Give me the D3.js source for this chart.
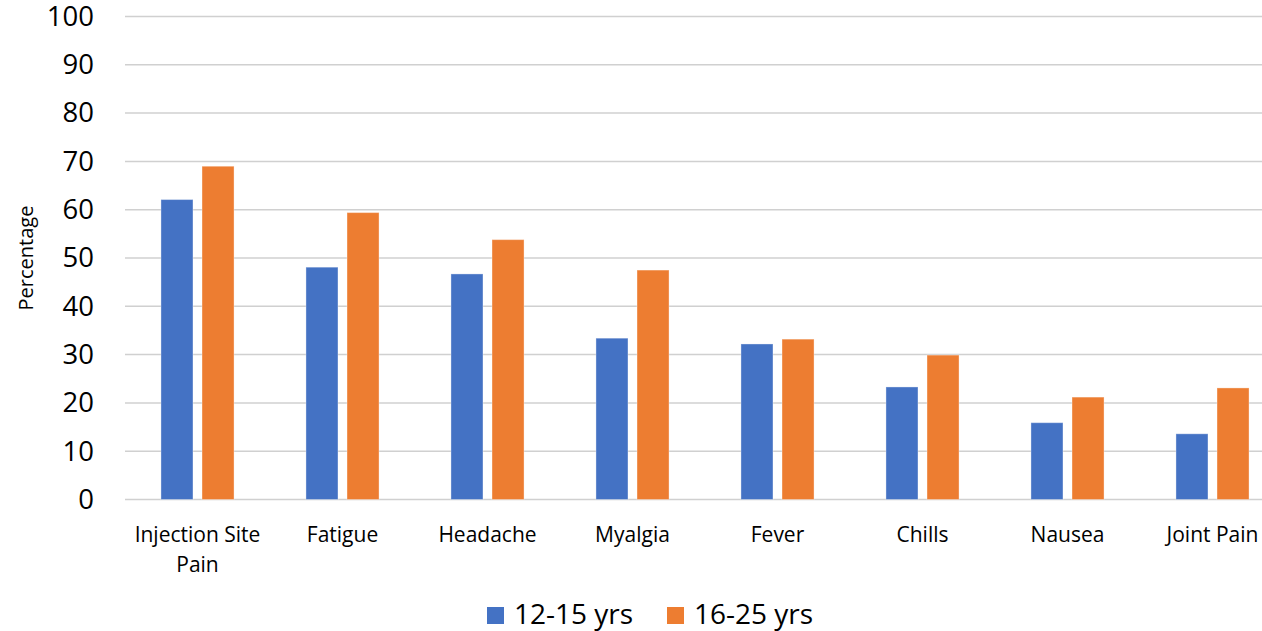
<!DOCTYPE html>
<html>
<head>
<meta charset="utf-8">
<script src="https://cdn.jsdelivr.net/npm/d3@7"></script>
<style>
  body { margin: 0; background: #fff; }
  text { font-family: "Open Sans", sans-serif; fill: #000; }
</style>
</head>
<body>
<div class="chart"></div>
<script>
// sizes
var width = 1262;
var height = 631;
var margin = { top: 16.5, bottom: 131.5, left: 125, right: -23 };

// data
var categories = ["Injection Site Pain", "Fatigue", "Headache", "Myalgia", "Fever", "Chills", "Nausea", "Joint Pain"];
var seriesNames = ["12-15 yrs", "16-25 yrs"];
var young = [62.1, 48.1, 46.7, 33.4, 32.2, 23.3, 15.9, 13.6];
var older = [69.0, 59.4, 53.8, 47.5, 33.2, 29.9, 21.2, 23.1];
var yTicks = [0, 10, 20, 30, 40, 50, 60, 70, 80, 90, 100];
var colors = ["#4472C4", "#ED7D31"];

var rows = categories.map((c, i) => ({ name: c, values: [young[i], older[i]] }));

const svg = d3.select(".chart")
  .append("svg")
  .attr("width", width)
  .attr("height", height);

var plotW = width - margin.left - margin.right;
var plotH = height - margin.top - margin.bottom;

const g = svg.append("g")
  .attr("transform", "translate(" + margin.left + "," + margin.top + ")");

var x0 = d3.scaleBand().domain(categories).range([0, plotW]).padding(0);
var x1 = d3.scaleBand().domain(seriesNames)
  .range([x0.bandwidth() * 0.248, x0.bandwidth() * 0.752])
  .paddingInner(0.22);
var y = d3.scaleLinear().domain([0, 100]).range([plotH, 0]);

// gridlines
g.append("g")
  .selectAll("line")
  .data(yTicks)
  .enter()
  .append("line")
  .attr("x1", 0)
  .attr("x2", plotW)
  .attr("y1", d => y(d))
  .attr("y2", d => y(d))
  .attr("stroke", "#d0d0d0")
  .attr("stroke-width", 1.5);

// y axis labels
var yAxis = g.append("g")
  .attr("transform", "translate(-31,0)")
  .call(d3.axisLeft(y).tickValues(yTicks).tickSize(0).tickPadding(0));
yAxis.select(".domain").remove();
yAxis.selectAll("text")
  .style("font-family", "'Open Sans', sans-serif")
  .style("font-size", "27.5px")
  .attr("fill", "#000");

// bars
var groups = g.selectAll(".cat")
  .data(rows)
  .enter()
  .append("g")
  .attr("class", "cat")
  .attr("transform", d => "translate(" + x0(d.name) + ",0)");

groups.selectAll("rect")
  .data(d => d.values.map((v, i) => ({ key: seriesNames[i], value: v, i: i })))
  .enter()
  .append("rect")
  .attr("x", d => x1(d.key))
  .attr("width", x1.bandwidth())
  .attr("y", d => y(d.value))
  .attr("height", d => plotH - y(d.value))
  .attr("fill", d => colors[d.i])
  .attr("stroke", "#ffffff")
  .attr("stroke-opacity", 0.35)
  .attr("stroke-width", 1);

// category labels, wrapped to the band width
var labels = g.append("g")
  .selectAll("text")
  .data(categories)
  .enter()
  .append("text")
  .attr("text-anchor", "middle")
  .attr("x", d => x0(d) + x0.bandwidth() / 2)
  .attr("y", plotH + 42)
  .style("font-size", "21px");

labels.each(function(d) {
  var el = d3.select(this);
  var words = d.split(" ");
  var line = [];
  var tspan = el.append("tspan").attr("x", el.attr("x")).attr("dy", 0);
  words.forEach(w => {
    line.push(w);
    tspan.text(line.join(" "));
    if (tspan.node().getComputedTextLength() > x0.bandwidth() - 4 && line.length > 1) {
      line.pop();
      tspan.text(line.join(" "));
      line = [w];
      tspan = el.append("tspan").attr("x", el.attr("x")).attr("dy", 30).text(w);
    }
  });
});

// y title
svg.append("text")
  .attr("transform", "translate(33,258) rotate(-90)")
  .attr("text-anchor", "middle")
  .style("font-size", "20px")
  .text("Percentage");

// legend
var legend = svg.append("g").attr("id", "legend");
var legendX = [487, 667];
legend.selectAll("rect")
  .data(seriesNames)
  .enter()
  .append("rect")
  .attr("x", (d, i) => legendX[i])
  .attr("y", 607)
  .attr("width", 17)
  .attr("height", 17)
  .attr("fill", (d, i) => colors[i]);
legend.selectAll("text")
  .data(seriesNames)
  .enter()
  .append("text")
  .attr("x", (d, i) => legendX[i] + 27)
  .attr("y", 624)
  .style("font-size", "28px")
  .text(d => d);
</script>
</body>
</html>
